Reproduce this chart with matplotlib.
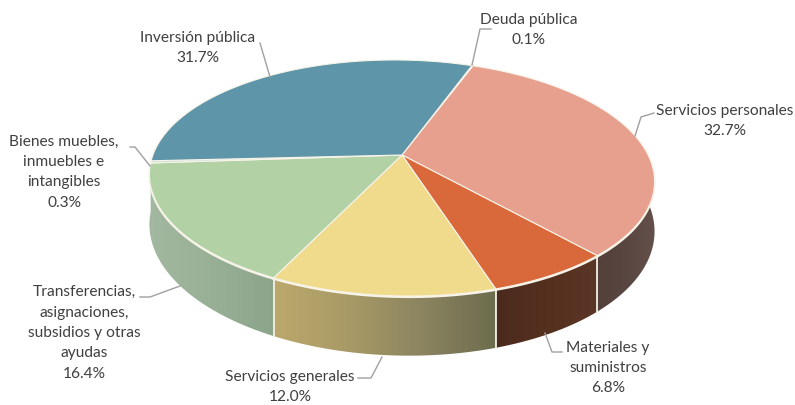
import numpy as np
import matplotlib
matplotlib.use("Agg")
import matplotlib.pyplot as plt
from matplotlib.colors import LinearSegmentedColormap
from matplotlib.patches import Polygon

# Datos (en sentido horario desde Deuda publica)
categories = ["Deuda pública", "Servicios personales", "Materiales y\nsuministros",
              "Servicios generales", "Transferencias,\nasignaciones,\nsubsidios y otras\nayudas",
              "Bienes muebles,\ninmuebles e\nintangibles", "Inversión pública"]
values = [0.1, 32.7, 6.8, 12.0, 16.4, 0.3, 31.7]
top_colors = ["#8fb0b0", "#e8a08e", "#d9683a", "#f0da8c", "#b2d2a6", "#c4e2d6", "#5f95a8"]
wall_colors = [["#555555", "#555555"],
               ["#54403b", "#5a4640", "#64504a"],
               ["#4b2a1e", "#55301f", "#5a3626"],
               ["#bba86c", "#a89a66", "#8b8460", "#6c6c4e"],
               ["#a2b8a0", "#98b096", "#8ca48a"],
               ["#a2b8a0", "#a2b8a0"],
               ["#a2b8a0", "#a2b8a0"]]

# Geometria de la perspectiva, en pixeles de la figura
cx, cy = 402, 155
s_x, s_y = 247.7, 113.5
k = 0.195
shear = 0.014
h = 48
start_deg = 70.5

plt.rcParams["font.family"] = ["Lato", "DejaVu Sans"]
fig = plt.figure(figsize=(7.95, 4.05), dpi=100)
ax = fig.add_axes([0, 0, 1, 1])
ax.set_xlim(0, 795)
ax.set_ylim(405, 0)
ax.axis("off")


def project(t):
    u, v = np.cos(t), np.sin(t)
    w = 1 + k * v
    x = s_x * u / w
    y = -s_y * v / w + shear * x
    return cx + x, cy + y, h / w


edges = np.deg2rad(start_deg - np.cumsum([0] + values) * 3.6)

# Paredes laterales
for i in range(len(values)):
    t = np.linspace(edges[i], edges[i + 1], 120)
    t = t[(np.sin(t) < 0.12)]
    if len(t) < 2:
        continue
    x, y, d = project(t)
    pts = np.r_[np.c_[x, y], np.c_[x, y + d][::-1]]
    poly = Polygon(pts, closed=True, facecolor="none", edgecolor="none")
    ax.add_patch(poly)
    cmap = LinearSegmentedColormap.from_list("w%d" % i, wall_colors[i])
    im = ax.imshow(np.linspace(0, 1, 256)[None, :], cmap=cmap, aspect="auto", zorder=2,
                   extent=[x.min(), x.max(), pts[:, 1].max(), pts[:, 1].min()])
    im.set_clip_path(poly)
    # separador claro entre paredes
    if i < 4:
        ax.plot([x[-1], x[-1]], [y[-1], y[-1] + d[-1]], color="#f2efe4", lw=1.3, zorder=3)
    ax.plot(x, y + 1, color="#f6f3e8", lw=1.5, zorder=3)
ax.set_xlim(0, 795)
ax.set_ylim(405, 0)

# Cara superior
for i in range(len(values)):
    t = np.linspace(edges[i], edges[i + 1], 160)
    x, y, _ = project(t)
    ax.fill(np.r_[cx, x], np.r_[cy, y], facecolor=top_colors[i], edgecolor="#f8f4ea",
            lw=0.8, zorder=4, joinstyle="round")

# Etiquetas
text_x = [529, 725, 608, 290, 84, 64, 198]
text_y = [30, 121, 368, 387, 333, 172, 48]
leaders = [[(491, 29), (480, 29), (472, 65)],
           [(654, 113), (641, 117), (635, 136)],
           [(562, 352), (552, 352), (545, 333)],
           [(358, 378), (371, 378), (382, 357)],
           [(140, 297), (150, 297), (180, 286)],
           [(130, 147), (135, 147), (150, 166)],
           [(260, 43), (270, 77)]]
for i in range(len(values)):
    ax.text(text_x[i], text_y[i], "%s\n%.1f%%" % (categories[i], values[i]), ha="center", va="center",
            fontsize=11.2, color="#404040", linespacing=1.58, zorder=6)
    ax.plot(*zip(*leaders[i]), color="#a0a0a0", lw=1.0, zorder=5)

fig.savefig("out.png", dpi=100)
